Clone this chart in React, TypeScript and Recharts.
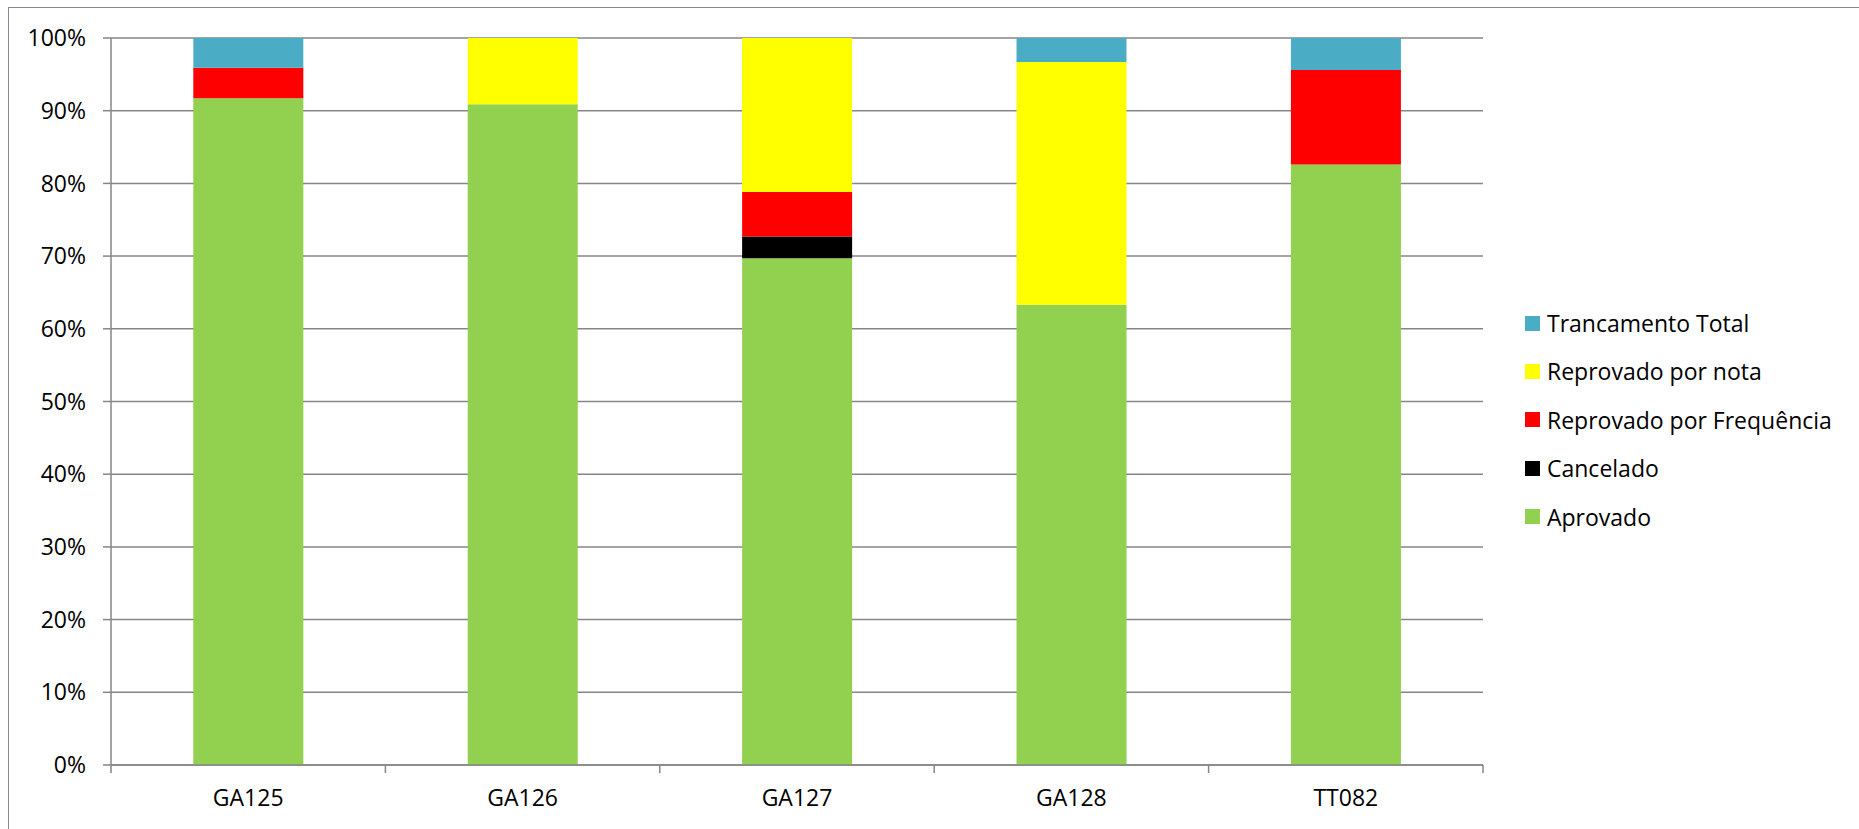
import React from 'react';
import { BarChart, Bar, XAxis, YAxis, CartesianGrid } from 'recharts';

const CATEGORIES = ['GA125', 'GA126', 'GA127', 'GA128', 'TT082'];
const APROVADO = [91.7, 90.9, 69.7, 63.3, 82.6];
const CANCELADO = [0, 0, 3.0, 0, 0];
const REPROV_FREQ = [4.2, 0, 6.1, 0, 13.0];
const REPROV_NOTA = [0, 9.1, 21.2, 33.4, 0];
const TRANCAMENTO = [4.1, 0, 0, 3.3, 4.4];
const Y_TICKS = [0, 0.1, 0.2, 0.3, 0.4, 0.5, 0.6, 0.7, 0.8, 0.9, 1];

// bottom to top stacking order
const SERIES = [
  { key: 'aprovado', name: 'Aprovado', color: '#92D050', values: APROVADO },
  { key: 'cancelado', name: 'Cancelado', color: '#000000', values: CANCELADO },
  { key: 'freq', name: 'Reprovado por Frequência', color: '#FF0000', values: REPROV_FREQ },
  { key: 'nota', name: 'Reprovado por nota', color: '#FFFF00', values: REPROV_NOTA },
  { key: 'tranc', name: 'Trancamento Total', color: '#4BACC6', values: TRANCAMENTO },
];

const data = CATEGORIES.map((c, i) => {
  const row: Record<string, string | number> = { name: c };
  SERIES.forEach(s => { row[s.key] = s.values[i]; });
  return row;
});

const W = 1859;
const H = 829;
const MARGIN = { top: 38, right: 376, left: 0, bottom: 0 };
const Y_AXIS_W = 111;
const PLOT_W = W - MARGIN.left - MARGIN.right - Y_AXIS_W;
const GRID = '#868686';
const FONT = '"Open Sans", sans-serif';

function XTick(props: any) {
  const { x, y, payload, index } = props;
  const band = PLOT_W / CATEGORIES.length;
  const left = x - band / 2;
  return (
    <g>
      <line x1={left} x2={left} y1={y} y2={y + 8} stroke={GRID} strokeWidth={1.5} />
      {index === CATEGORIES.length - 1 && (
        <line x1={left + band} x2={left + band} y1={y} y2={y + 8} stroke={GRID} strokeWidth={1.5} />
      )}
      <text x={x} y={y + 35} textAnchor="middle" dominantBaseline="middle" fontSize={23} fill="#000" fontFamily={FONT}>
        {payload.value}
      </text>
    </g>
  );
}

export default function App() {
  const legendItems = [...SERIES].reverse();
  return (
    <div style={{ position: 'relative', width: W, height: H, overflow: 'hidden', fontFamily: FONT }}>
      <style>{`body{margin:0;overflow:hidden}`}</style>
      <div style={{ position: 'absolute', left: 8, top: 7, width: 1900, height: 900, border: '1.5px solid #898989' }} />
      <div style={{ position: 'absolute', left: 0, top: 0 }}>
        <BarChart width={W} height={H} data={data} margin={MARGIN} stackOffset="expand" barCategoryGap="30%">
          <CartesianGrid vertical={false} stroke={GRID} strokeWidth={1.5} />
          <XAxis
            dataKey="name"
            height={64}
            axisLine={{ stroke: GRID, strokeWidth: 1.5 }}
            tickLine={false}
            tickSize={0}
            tickMargin={0}
            tick={<XTick />}
            interval={0}
          />
          <YAxis
            width={Y_AXIS_W}
            domain={[0, 1]}
            ticks={Y_TICKS}
            tickFormatter={(v: number) => `${Math.round(v * 100)}%`}
            axisLine={{ stroke: GRID, strokeWidth: 1.5 }}
            tickLine={{ stroke: GRID, strokeWidth: 1.5 }}
            tickSize={8}
            tickMargin={17}
            tick={{ fontSize: 23, fill: '#000', fontFamily: FONT }}
            interval={0}
          />
          {SERIES.map(s => (
            <Bar key={s.key} dataKey={s.key} name={s.name} stackId="a" fill={s.color} isAnimationActive={false} />
          ))}
        </BarChart>
      </div>
      {legendItems.map((s, i) => (
        <div
          key={s.key}
          style={{ position: 'absolute', left: 1525, top: 323 + i * 48.4 - 15, height: 30, display: 'flex', alignItems: 'center' }}
        >
          <span style={{ width: 15, height: 15, background: s.color, display: 'inline-block', marginRight: 7 }} />
          <span style={{ fontSize: 23, color: '#000', whiteSpace: 'nowrap' }}>{s.name}</span>
        </div>
      ))}
    </div>
  );
}
